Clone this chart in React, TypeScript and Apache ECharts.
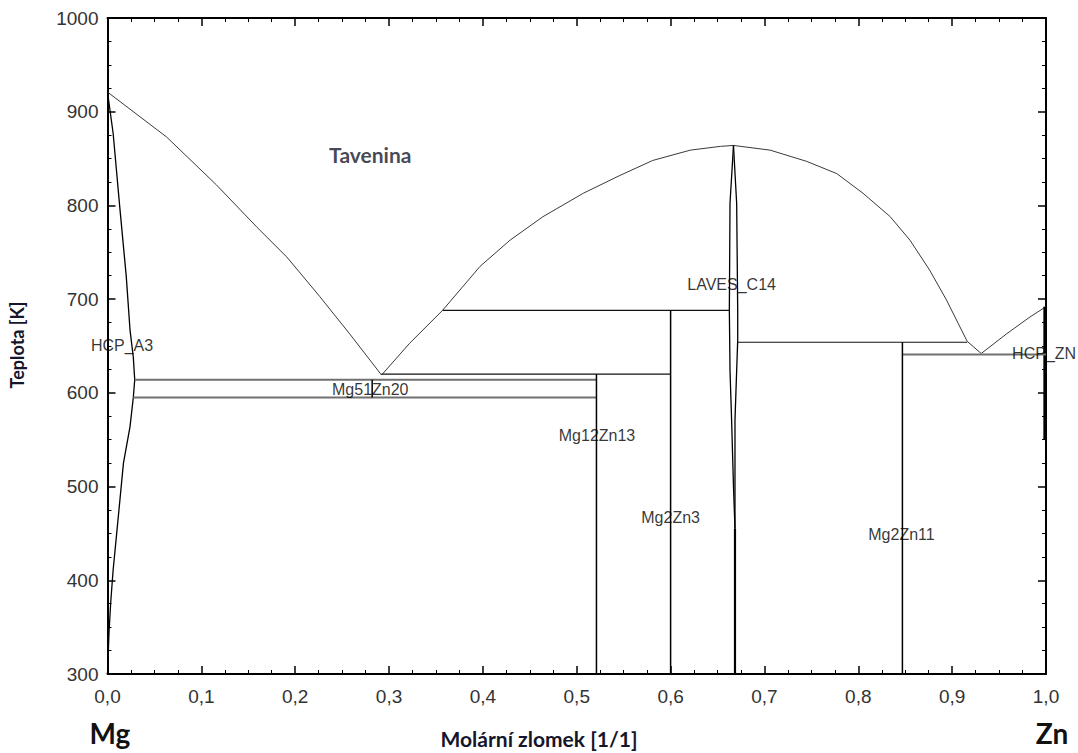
import React, { useEffect, useRef } from "react";
import * as echarts from "echarts";

// ---- Data (mole fraction Zn, temperature K) ----
const liquidusMg: number[][] = [[0, 921], [0.063, 873], [0.116, 822], [0.159, 777], [0.191, 745], [0.226, 703], [0.258, 663], [0.292, 619]];
const liquidusLaves: number[][] = [[0.292, 619], [0.322, 653], [0.357, 688], [0.397, 735], [0.429, 763], [0.464, 788], [0.507, 813], [0.546, 832], [0.581, 848], [0.621, 859], [0.653, 863], [0.667, 864]];
const liquidusZn: number[][] = [[0.667, 864], [0.706, 859], [0.745, 847], [0.777, 834], [0.805, 813], [0.834, 788], [0.855, 763], [0.876, 731], [0.894, 699], [0.916, 655], [0.931, 642], [0.958, 663], [0.983, 681], [1.0, 692]];
const hcpA3Boundary: number[][] = [[0, 921], [0.006, 877], [0.013, 799], [0.02, 724], [0.024, 667], [0.0275, 638], [0.029, 614], [0.0275, 595], [0.024, 564], [0.017, 525], [0.0098, 450], [0.006, 411], [0.0034, 376], [0.0016, 344], [0, 300]];
const lavesLeft: number[][] = [[0.667, 864], [0.6633, 802], [0.6626, 688], [0.6633, 624], [0.665, 571], [0.667, 500], [0.6686, 455]];
const lavesRight: number[][] = [[0.667, 864], [0.6704, 802], [0.6715, 688], [0.6715, 656], [0.6704, 624], [0.6686, 571], [0.6686, 500], [0.6686, 455]];
const mgZn2Line: number[][] = [[0.6686, 455], [0.6686, 300]];
const hcpZnLine: number[][] = [[0.9985, 692], [0.9985, 550]];

// invariant (horizontal) lines: [xStart, xEnd, T]
const blackHorizontals: number[][] = [[0.357, 0.6626, 688], [0.6715, 0.916, 654], [0.292, 0.6, 620]];
const grayHorizontals: number[][] = [[0.847, 1.0, 641], [0.029, 0.521, 614], [0.0275, 0.521, 595]];
// compound (vertical) lines: [x, Ttop, Tbottom]
const compoundVerticals: number[][] = [[0.521, 620, 300], [0.6, 688, 300], [0.847, 654, 300], [0.282, 614, 595]];

// phase labels
const labelNames: string[] = ["HCP_A3", "Mg51Zn20", "Mg12Zn13", "Mg2Zn3", "LAVES_C14", "Mg2Zn11", "HCP_ZN"];
const labelX: number[] = [0.0155, 0.28, 0.5216, 0.6, 0.665, 0.846, 0.998];
const labelT: number[] = [651, 604, 554, 467, 716, 449, 641.5];
const liquidName = "Tavenina";
const liquidPos: number[] = [0.28, 854];

const xTicks = { min: 0, max: 1, interval: 0.1 };
const yTicks = { min: 300, max: 1000, interval: 100 };

export default function App() {
  const ref = useRef<HTMLDivElement>(null);
  useEffect(() => {
    if (!ref.current) return;
    const chart = echarts.init(ref.current, undefined, { renderer: "svg" });
    const line = (data: number[][], color: string, width: number) => ({
      type: "line",
      data,
      showSymbol: false,
      symbol: "none",
      silent: true,
      lineStyle: { color, width },
      z: 3,
    });
    const series: any[] = [
      line(liquidusMg, "#3a3a3a", 1),
      line(liquidusLaves, "#3a3a3a", 1),
      line(liquidusZn, "#3a3a3a", 1),
      line(hcpA3Boundary, "#000", 1.3),
      line(lavesLeft, "#000", 1.3),
      line(lavesRight, "#000", 1.3),
      line(mgZn2Line, "#000", 2.2),
      line(hcpZnLine, "#000", 2.5),
    ];
    blackHorizontals.forEach((h) => series.push(line([[h[0], h[2]], [h[1], h[2]]], "#111", 1.2)));
    grayHorizontals.forEach((h) => series.push(line([[h[0], h[2]], [h[1], h[2]]], "#707070", 2)));
    compoundVerticals.forEach((v) => series.push(line([[v[0], v[1]], [v[0], v[2]]], "#000", 1.5)));
    series.push({
      type: "scatter",
      symbolSize: 0,
      silent: true,
      z: 5,
      data: [
        ...labelNames.map((n, i) => ({ name: n, value: [labelX[i], labelT[i]] })),
        {
          name: liquidName,
          value: liquidPos,
          label: { fontFamily: "Lato", fontWeight: "bold", fontSize: 21, color: "#15152b" },
        },
      ],
      label: {
        show: true,
        position: "inside",
        formatter: (p: any) => p.name,
        fontFamily: "Liberation Sans",
        fontSize: 16,
        color: "#000",
      },
    });

    const tickCommon = {
      axisLine: { show: true, onZero: false, lineStyle: { color: "#000", width: 2 } },
      axisTick: { show: true, inside: true, length: 8, lineStyle: { color: "#000", width: 1.5 } },
      minorTick: { show: true, splitNumber: 4, length: 4, lineStyle: { color: "#000", width: 1 } },
      splitLine: { show: false },
      minorSplitLine: { show: false },
    };

    chart.setOption({
      animation: false,
      backgroundColor: "#fff",
      grid: { left: 107.5, right: 32, top: 18, bottom: 79, containLabel: false },
      xAxis: [
        {
          type: "value",
          ...xTicks,
          position: "bottom",
          ...tickCommon,
          axisLabel: {
            fontSize: 19,
            color: "#333",
            fontFamily: "Liberation Sans",
            margin: 13,
            formatter: (v: number) => v.toFixed(1).replace(".", ","),
          },
        },
        {
          type: "value",
          ...xTicks,
          position: "top",
          ...tickCommon,
          axisLabel: { show: false },
        },
      ],
      yAxis: [
        {
          type: "value",
          ...yTicks,
          position: "left",
          ...tickCommon,
          axisLabel: {
            fontSize: 19,
            color: "#333",
            fontFamily: "Liberation Sans",
            margin: 9,
            formatter: (v: number) => String(Math.round(v)),
          },
        },
        {
          type: "value",
          ...yTicks,
          position: "right",
          ...tickCommon,
          axisLabel: { show: false },
        },
      ],
      graphic: [
        {
          type: "text",
          x: 17,
          y: 345,
          rotation: Math.PI / 2,
          style: { text: "Teplota [K]", font: "bold 18px Lato", fill: "#15152b", align: "center", verticalAlign: "middle" },
        },
        {
          type: "text",
          x: 539,
          y: 738,
          style: { text: "Molární zlomek [1/1]", font: "bold 21px Lato", fill: "#15152b", align: "center", verticalAlign: "middle" },
        },
        {
          type: "text",
          x: 110,
          y: 733,
          style: { text: "Mg", font: "bold 28px Lato", fill: "#111", align: "center", verticalAlign: "middle" },
        },
        {
          type: "text",
          x: 1052,
          y: 733,
          style: { text: "Zn", font: "bold 28px Lato", fill: "#111", align: "center", verticalAlign: "middle" },
        },
      ],
      series,
    });
    return () => chart.dispose();
  }, []);
  return <div ref={ref} style={{ position: "fixed", left: 0, top: 0, width: 1078, height: 753 }} />;
}
